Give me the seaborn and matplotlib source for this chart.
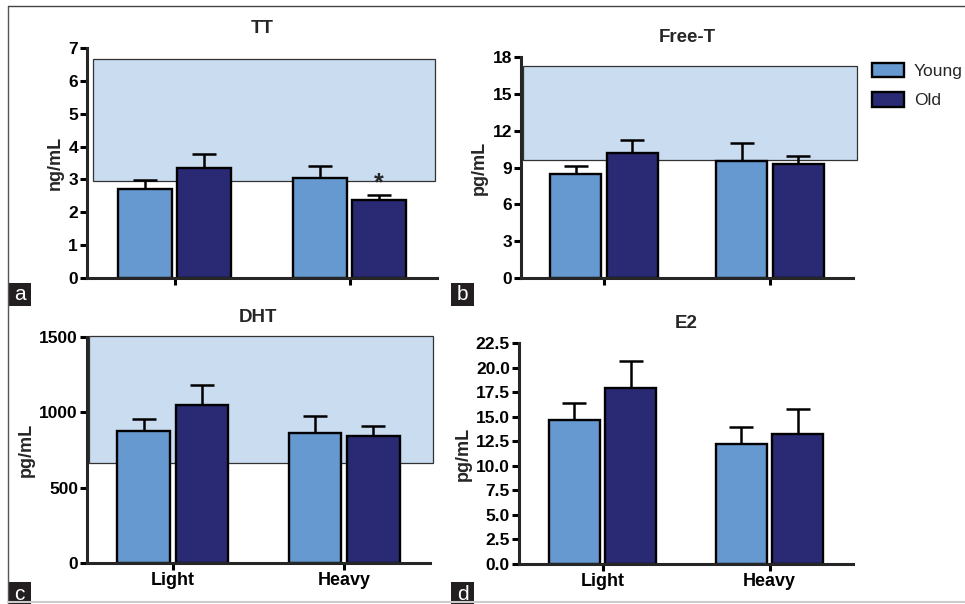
import pandas as pd
import seaborn as sns
import matplotlib.pyplot as plt
from matplotlib.lines import Line2D
from matplotlib.patches import Rectangle

groups = ['Light', 'Heavy']
ages = ['Young', 'Old']

# means and SEM (Light, Heavy)
tt_young = [2.72, 3.04]
tt_old = [3.36, 2.37]
tt_young_err = [0.26, 0.36]
tt_old_err = [0.41, 0.17]

ft_young = [8.47, 9.50]
ft_old = [10.16, 9.31]
ft_young_err = [0.68, 1.53]
ft_old_err = [1.04, 0.66]

dht_young = [878, 860]
dht_old = [1050, 845]
dht_young_err = [80, 115]
dht_old_err = [131, 61]

e2_young = [14.70, 12.25]
e2_old = [17.95, 13.20]
e2_young_err = [1.73, 1.73]
e2_old_err = [2.68, 2.55]

# reference ranges (shaded bands)
tt_range = [2.95, 6.65]
ft_range = [9.6, 17.3]
dht_range = [664, 1505]

titles = ['TT', 'Free-T', 'DHT', 'E2']
ylabels = ['ng/mL', 'pg/mL', 'pg/mL', 'pg/mL']
panel_letters = ['a', 'b', 'c', 'd']

sns.set_style('ticks')
plt.rcParams['font.family'] = ['Liberation Sans', 'DejaVu Sans']

colors = {'Young': '#6699cf', 'Old': '#292a73'}
shade_color = '#c9dcf0'

W, H = 965, 604
fig = plt.figure(figsize=(W / 100, H / 100), dpi=100)


def px_axes(left, top, right, bottom):
    return fig.add_axes([left / W, 1 - bottom / H, (right - left) / W, (bottom - top) / H])


def make_df(young, old):
    rows = []
    for age, vals in zip(ages, [young, old]):
        for g, v in zip(groups, vals):
            rows.append({'group': g, 'age': age, 'value': v})
    return pd.DataFrame(rows)


def draw_panel(ax, young, old, young_err, old_err, title, ylabel, ylim, yticks,
               band=None, band_x=(0.0, 1.0), show_xlabels=False, fmt=None, legend=False):
    df = make_df(young, old)
    sns.barplot(data=df, x='group', y='value', hue='age', hue_order=ages, order=groups,
                palette=colors, saturation=1, width=0.68, gap=0.1, edgecolor='black',
                linewidth=1.7, errorbar=None, legend=legend, ax=ax, zorder=2)
    bars = [b for c in ax.containers for b in c]
    errs = young_err + old_err
    xs = [b.get_x() + b.get_width() / 2 for b in bars]
    hs = [b.get_height() for b in bars]
    ax.errorbar(xs, hs, yerr=[[0] * len(errs), errs], fmt='none', ecolor='black',
                elinewidth=1.8, capsize=8.3, capthick=1.8, zorder=1)
    if band is not None:
        ax.axhspan(band[0], band[1], xmin=band_x[0], xmax=band_x[1], facecolor=shade_color,
                   edgecolor='#333333', linewidth=0.9, zorder=0, clip_on=False)
    ax.set_xlim(-0.5, 1.5)
    ax.set_ylim(*ylim)
    ax.set_yticks(yticks)
    if fmt:
        ax.set_yticklabels([fmt % t for t in yticks])
    ax.set_title(title, fontsize=13.5, fontweight='bold', pad=11)
    ax.set_ylabel(ylabel, fontsize=13, fontweight='bold', labelpad=3)
    ax.set_xlabel('')
    ax.set_xticks([0, 1])
    if show_xlabels:
        ax.set_xticklabels(groups, fontsize=13, fontweight='bold')
    else:
        ax.set_xticklabels(['', ''])
    for lab in ax.get_yticklabels():
        lab.set_fontweight('bold')
        lab.set_fontsize(12.5)
    sns.despine(ax=ax)
    for s in ['left', 'bottom']:
        ax.spines[s].set_linewidth(2.2)
    ax.tick_params(width=2.2, length=5, pad=1.5, colors='black')
    ax.set_facecolor('none')
    return xs, hs, errs


ax_a = px_axes(87, 48, 437, 278)
xs, hs, errs = draw_panel(ax_a, tt_young, tt_old, tt_young_err, tt_old_err, titles[0], ylabels[0],
                          (0, 7), list(range(0, 8)), band=tt_range, band_x=(0.017, 0.994))
# significance marker on Old / Heavy
ax_a.text(xs[3], hs[3] + errs[3] - 0.02, '*', ha='center', va='bottom', fontsize=18, fontweight='bold')

ax_b = px_axes(521, 57, 853, 278)
draw_panel(ax_b, ft_young, ft_old, ft_young_err, ft_old_err, titles[1], ylabels[1],
           (0, 18), list(range(0, 19, 3)), band=ft_range, band_x=(0.006, 1.012), legend=True)
leg = ax_b.get_legend()
handles = leg.legend_handles
labels = [t.get_text() for t in leg.get_texts()]
leg.remove()
fig.legend(handles, labels, loc='upper left', bbox_to_anchor=(872 / W, 1 - 63 / H),
           frameon=False, fontsize=12.5, handlelength=1.85, handleheight=0.9,
           handletextpad=0.55, labelspacing=0.75, borderaxespad=0, borderpad=0)

ax_c = px_axes(87, 337, 430, 563)
draw_panel(ax_c, dht_young, dht_old, dht_young_err, dht_old_err, titles[2], ylabels[2],
           (0, 1500), [0, 500, 1000, 1500], band=dht_range, band_x=(0.006, 1.01), show_xlabels=True)

ax_d = px_axes(519, 343, 853, 564)
draw_panel(ax_d, e2_young, e2_old, e2_young_err, e2_old_err, titles[3], ylabels[3],
           (0, 22.5), [i * 2.5 for i in range(10)], show_xlabels=True, fmt='%.1f')

# panel letters in dark boxes
for letter, (lx, ly) in zip(panel_letters, [(8, 283), (451, 283), (8, 582), (451, 582)]):
    fig.add_artist(Rectangle((lx / W, 1 - (ly + 23) / H), 23 / W, 23 / H,
                             transform=fig.transFigure, facecolor='#231f20', edgecolor='none'))
    fig.text((lx + 11.5) / W, 1 - (ly + 12) / H, letter, color='white', fontsize=15,
             ha='center', va='center')

# outer frame
fig.add_artist(Line2D([8 / W, 8 / W], [1 - 6 / H, 1 - 603 / H], transform=fig.transFigure,
                      color='#555555', linewidth=1))
fig.add_artist(Line2D([8 / W, 1], [1 - 6 / H, 1 - 6 / H], transform=fig.transFigure,
                      color='#444444', linewidth=1))
fig.add_artist(Line2D([8 / W, 1], [1 - 602 / H, 1 - 602 / H], transform=fig.transFigure,
                      color='#cccccc', linewidth=1.5))

fig.savefig('out.png', dpi=100)
